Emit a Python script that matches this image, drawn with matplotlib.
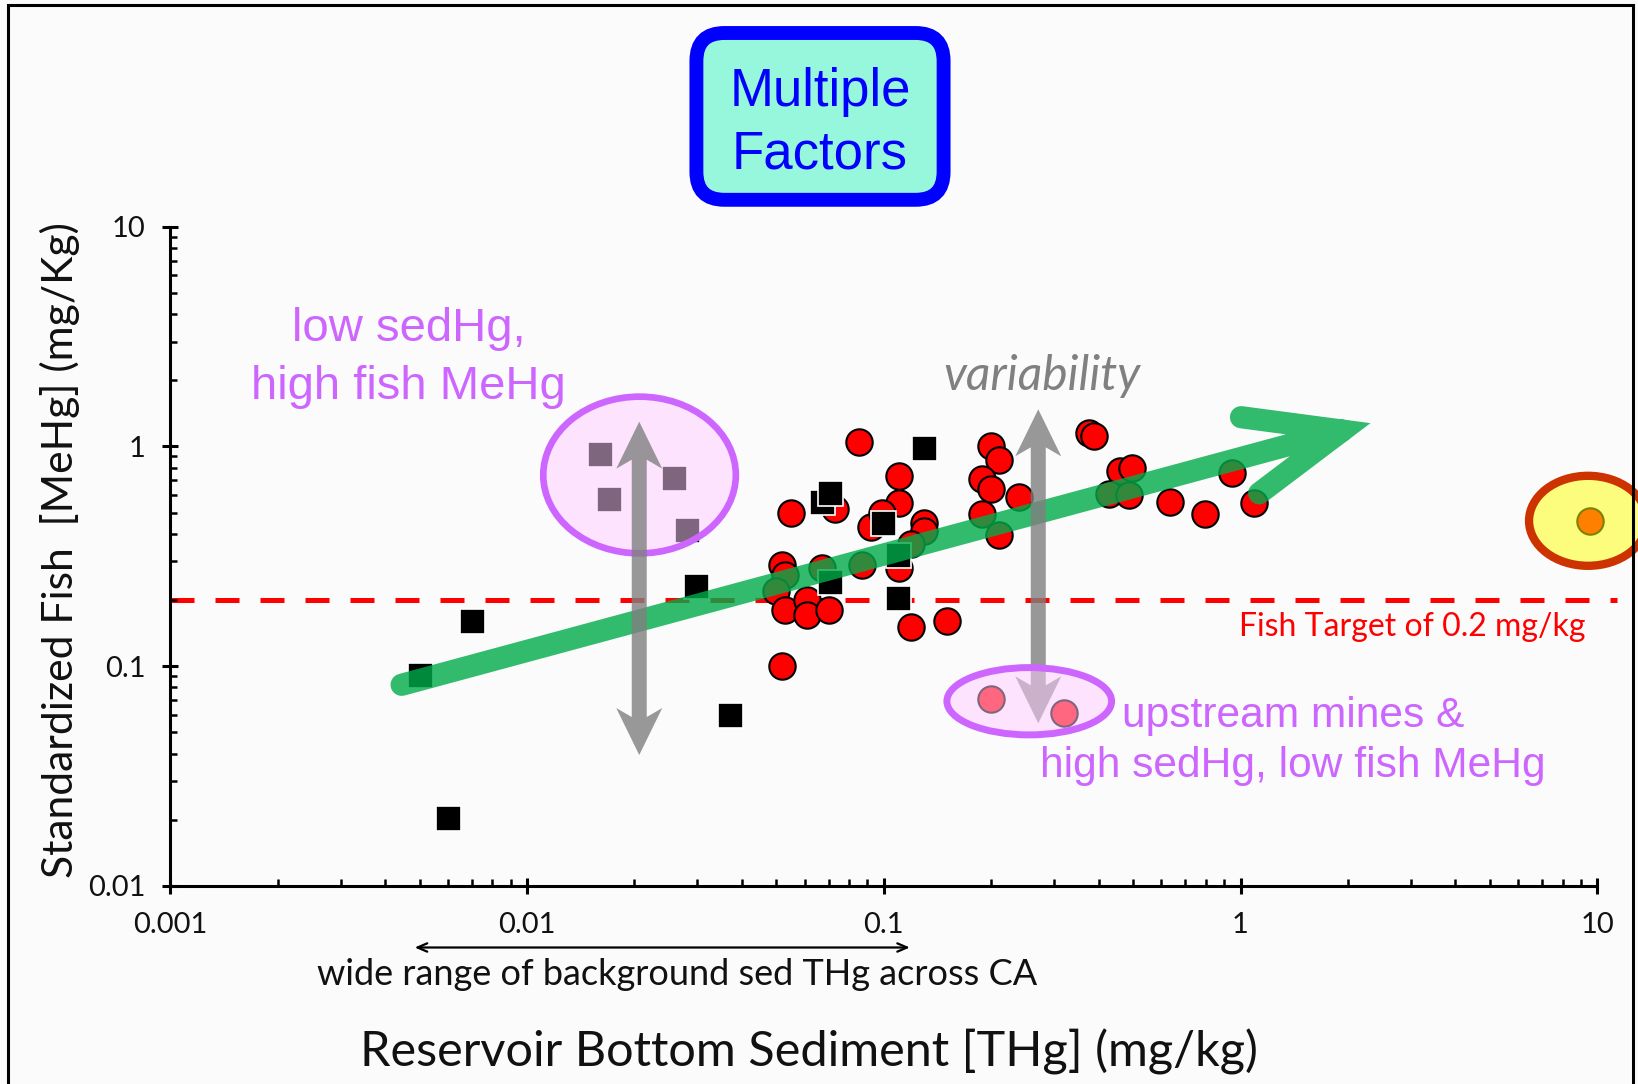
import numpy as np
import matplotlib
matplotlib.use('Agg')
import matplotlib.pyplot as plt
import matplotlib.transforms as mtransforms
from matplotlib.patches import Ellipse, Polygon, FancyBboxPatch, Rectangle
from matplotlib.ticker import FixedLocator, FixedFormatter, LogLocator, NullFormatter

plt.rcParams['font.family'] = ['Lato', 'DejaVu Sans']

# ---------------- data ----------------
# red circles: reservoirs (sediment THg, fish MeHg)
circle_x = [0.085, 0.110, 0.110, 0.092, 0.130, 0.130, 0.119, 0.110, 0.055, 0.073,
            0.099, 0.052, 0.067, 0.087, 0.053, 0.050, 0.053, 0.061, 0.061, 0.070,
            0.119, 0.150, 0.052, 0.200, 0.210, 0.189, 0.200, 0.239, 0.189, 0.210,
            0.377, 0.389, 0.460, 0.496, 0.429, 0.488, 0.635, 0.797, 0.944, 1.093,
            0.200, 0.319, 9.56]
circle_y = [1.05, 0.73, 0.55, 0.43, 0.45, 0.41, 0.36, 0.28, 0.50, 0.52,
            0.50, 0.29, 0.28, 0.29, 0.26, 0.22, 0.18, 0.20, 0.17, 0.18,
            0.15, 0.16, 0.10, 1.00, 0.87, 0.71, 0.64, 0.59, 0.49, 0.395,
            1.15, 1.11, 0.77, 0.80, 0.61, 0.60, 0.56, 0.49, 0.755, 0.555,
            0.071, 0.061, 0.458]
# black squares
square_x = [0.0050, 0.0070, 0.0060, 0.0298, 0.0370, 0.1295, 0.0994, 0.0672, 0.0705,
            0.1095, 0.0705, 0.1095, 0.0160, 0.0170, 0.0259, 0.0280]
square_y = [0.091, 0.161, 0.0204, 0.232, 0.060, 0.987, 0.447, 0.561, 0.612,
            0.321, 0.2425, 0.2035, 0.924, 0.575, 0.716, 0.4165]
fish_target = 0.2
x_ticks = [0.001, 0.01, 0.1, 1, 10]
x_tick_labels = ['0.001', '0.01', '0.1', '1', '10']
y_ticks = [0.01, 0.1, 1, 10]
y_tick_labels = ['0.01', '0.1', '1', '10']

# ---------------- figure ----------------
W, H = 1638, 1084
DPI = 100
fig = plt.figure(figsize=(W / DPI, H / DPI), dpi=DPI)
fig.patch.set_facecolor('#fbfbfb')

ax_l, ax_r, ax_t, ax_b = 170.3, 1597.3, 226.7, 885.8
ax = fig.add_axes([ax_l / W, 1 - ax_b / H, (ax_r - ax_l) / W, (ax_b - ax_t) / H])
ax.set_xscale('log')
ax.set_yscale('log')
ax.set_xlim(x_ticks[0], x_ticks[-1])
ax.set_ylim(y_ticks[0], y_ticks[-1])
ax.patch.set_alpha(0)
for s in ['top', 'right']:
    ax.spines[s].set_visible(False)
for s in ['left', 'bottom']:
    ax.spines[s].set_linewidth(2.2)

ax.xaxis.set_major_locator(FixedLocator(x_ticks))
ax.xaxis.set_major_formatter(FixedFormatter(x_tick_labels))
ax.yaxis.set_major_locator(FixedLocator(y_ticks))
ax.yaxis.set_major_formatter(FixedFormatter(y_tick_labels))
ax.xaxis.set_minor_locator(LogLocator(base=10, subs=range(2, 10)))
ax.yaxis.set_minor_locator(LogLocator(base=10, subs=range(2, 10)))
ax.xaxis.set_minor_formatter(NullFormatter())
ax.yaxis.set_minor_formatter(NullFormatter())
ax.tick_params(which='major', direction='inout', length=12, width=2.2, labelsize=21,
               color='black', labelcolor='#111111')
ax.tick_params(axis='x', which='major', pad=13)
ax.tick_params(axis='y', which='major', pad=12)
ax.tick_params(which='minor', direction='in', length=5, width=1.8)

# fish target dashed line
ax.plot([x_ticks[0], 11.36], [fish_target, fish_target], color='#ff0000', lw=3.6,
        linestyle=(0, (4.8, 4.2)), dash_capstyle='butt', zorder=1, clip_on=False)

# points
ax.plot(circle_x, circle_y, linestyle='none', marker='o', ms=19, mfc='#ff0000',
        mec='black', mew=1.5, zorder=2, clip_on=False)
ax.plot(square_x, square_y, linestyle='none', marker='s', ms=18, mfc='black',
        mec='white', mew=1.2, zorder=3, clip_on=False)


def ell(cx, cy, w, h, fc, ec, lw, z):
    e = Ellipse((0, 0), w, h, transform=mtransforms.ScaledTranslation(cx, cy, ax.transData),
                facecolor=fc, edgecolor=ec, lw=lw, zorder=z, clip_on=False)
    ax.add_patch(e)


pink = (1.0, 0.8, 1.0, 0.5)
purple = '#cc66ff'
ell(0.02067, 0.741, 192.6, 156.7, pink, purple, 4.8, 4)
ell(9.42, 0.4585, 118, 90, (1.0, 1.0, 0.0, 0.5), '#cc3300', 6.0, 4)

# green trend arrow (single path so transparency is uniform)
gx = [0.00445, 1.927, np.nan, 1.003, 1.927, 1.128]
gy = [0.0822, 1.18, np.nan, 1.358, 1.18, 0.6116]
ax.plot(gx, gy, color=(0.0, 0.675, 0.29), alpha=0.8, lw=16, solid_capstyle='round',
        solid_joinstyle='miter', zorder=5, clip_on=False)


def double_arrow(x, ylo, yhi, z):
    xc, yb = ax.transData.transform((x, ylo))
    _, yt = ax.transData.transform((x, yhi))
    hl, hw, sw, nt = 47, 23, 7.5, 9
    verts = [(xc, yt), (xc + hw, yt - hl), (xc + sw, yt - hl + nt), (xc + sw, yb + hl - nt),
             (xc + hw, yb + hl), (xc, yb), (xc - hw, yb + hl), (xc - sw, yb + hl - nt),
             (xc - sw, yt - hl + nt), (xc - hw, yt - hl)]
    p = Polygon(verts, closed=True, transform=mtransforms.IdentityTransform(),
                facecolor=(0.5, 0.5, 0.5), alpha=0.8, edgecolor='none', zorder=z, clip_on=False)
    ax.add_patch(p)


double_arrow(0.02063, 0.03938, 1.2955, 6)
double_arrow(0.271, 0.0549, 1.475, 6)

ell(0.2557, 0.0692, 164.7, 67.3, pink, purple, 5.0, 7)

# ---------------- texts ----------------
def fx(px):
    return px / W


def fy(py):
    return 1 - py / H


# title box
box = FancyBboxPatch((696.4, H - 199.8), 247.2, 166.8,
                     boxstyle='round,pad=0,rounding_size=28',
                     transform=mtransforms.IdentityTransform(),
                     facecolor='#96f7dc', edgecolor='#0000ff', lw=10)
fig.add_artist(box)
fig.text(fx(820), fy(123), 'Multiple\nFactors', ha='center', va='center',
         fontsize=38, color='#0000ff', family='Liberation Sans', linespacing=1.32)

fig.text(fx(408.4), fy(358), 'low sedHg,\nhigh fish MeHg', ha='center', va='center',
         fontsize=34, color=purple, family='Liberation Sans', linespacing=1.42)
fig.text(fx(1293), fy(741), 'upstream mines &\nhigh sedHg, low fish MeHg', ha='center',
         va='center', fontsize=30.6, color=purple, family='Liberation Sans', linespacing=1.34)
fig.text(fx(1041.5), fy(376), 'variability', ha='center', va='center', fontsize=34.5,
         color='#808080', style='italic', family='Lato')
fig.text(fx(1412.3), fy(626.8), 'Fish Target of 0.2 mg/kg', ha='center', va='center',
         fontsize=23, color='#ff0000', family='Lato')

fig.text(fx(59.5), fy(550), 'Standardized Fish  [MeHg] (mg/Kg)', rotation=90,
         ha='center', va='center', fontsize=30.7, color='#111111', family='Lato')
fig.text(fx(809.5), fy(1052), 'Reservoir Bottom Sediment [THg] (mg/kg)', ha='center',
         va='center', fontsize=35, color='#111111', family='Lato')
fig.text(fx(677.4), fy(974.5), 'wide range of background sed THg across CA', ha='center',
         va='center', fontsize=26, color='#111111', family='Lato')

blend = mtransforms.blended_transform_factory(ax.transData, fig.transFigure)
ax.annotate('', xy=(0.1183, fy(947.5)), xytext=(0.004842, fy(947.5)),
            xycoords=blend, textcoords=blend,
            arrowprops=dict(arrowstyle='<->,head_length=0.7,head_width=0.3',
                            color='black', lw=1.6, shrinkA=0, shrinkB=0),
            annotation_clip=False)

# outer frame
frame = Rectangle((8, -20), 1625, H - 5 + 20, transform=mtransforms.IdentityTransform(),
                  facecolor='none', edgecolor='black', lw=2.2)
fig.add_artist(frame)

fig.savefig('out.png', dpi=DPI, facecolor=fig.get_facecolor())
